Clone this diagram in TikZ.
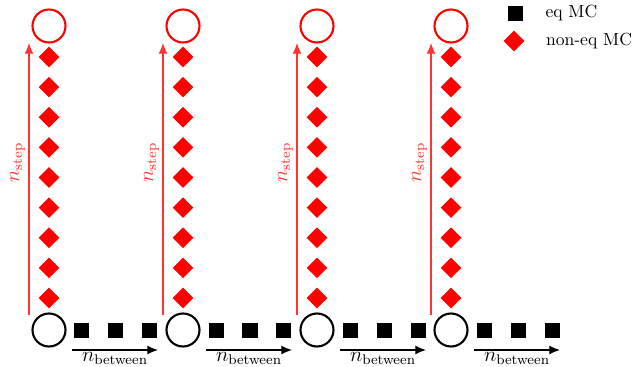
\documentclass[tikz,border=0pt]{standalone}
\usepackage{amsmath}
\usetikzlibrary{positioning,shapes.geometric,arrows.meta}

\begin{document}
\begin{tikzpicture}[
  node distance=0.3cm,
  state/.style={draw, circle, line width=1.2pt, minimum size=0.66cm, inner sep=0pt},
  eqmc/.style={fill=black, minimum size=0.3cm, inner sep=0pt},
  neqmc/.style={diamond, fill=red, minimum size=0.42cm, inner sep=0pt},
  arr/.style={-{Latex[length=6pt,width=5pt]}, line width=0.6pt}
]
\useasboundingbox (0,0) rectangle (12.78,7.32);

\foreach \i in {0,...,3} {
  \pgfmathsetmacro{\cx}{0.98+2.68*\i}
  \node[state] (eq\i) at (\cx,0.72) {};
  \node[state, draw=red] (top\i) at (\cx,6.8) {};
  \foreach \j in {0,...,8}
    \node[neqmc] (d\i\j) at (\cx,{1.36+0.6025*\j}) {};
  \foreach \k in {1,2,3}
    \node[eqmc] (s\i\k) at ({\cx+0.68*\k-0.02},0.72) {};
  % n_step arrow
  \coordinate (sa\i) at ({\cx-0.4},1.02);
  \coordinate (sb\i) at ({\cx-0.4},6.46);
  \draw[arr, red!80] (sa\i) -- node[pos=0.56, sloped, above, inner sep=2pt, font=\large]
    {$n_{\text{step}}$} (sb\i);
  % n_between arrow
  \coordinate (ba\i) at ({\cx+0.46},0.32);
  \coordinate (bb\i) at ({\cx+2.18},0.32);
  \draw[arr] (ba\i) -- node[below, inner sep=1pt, font=\large] {$n_{\text{between}}$} (bb\i);
}

% legend
\node[eqmc] (legeq) at (10.3,7.06) {};
\node[right=0.33cm of legeq] (legeqtxt) {eq MC};
\node[neqmc] (legneq) at (10.28,6.5) {};
\node[right=0.3cm of legneq] (legneqtxt) {non-eq MC};
\end{tikzpicture}
\end{document}
